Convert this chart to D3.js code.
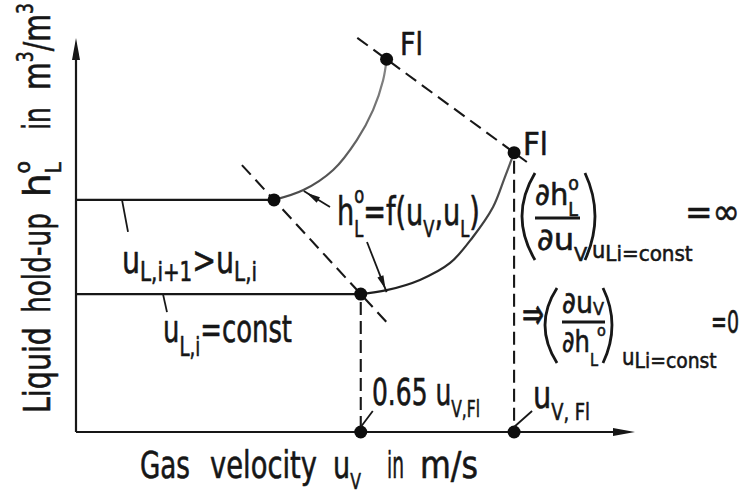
<!DOCTYPE html>
<html>
<head>
<meta charset="utf-8">
<script src="https://cdn.jsdelivr.net/npm/d3@7/dist/d3.min.js"></script>
<style>
  html, body { margin: 0; padding: 0; background: #fff; }
  svg { display: block; }
  text { font-family: "DejaVu Sans", "Liberation Sans", sans-serif; font-stretch: condensed;
         fill: #161616; stroke: #161616; stroke-width: 0.55px; stroke-linejoin: round; }
</style>
</head>
<body>
<svg id="chart" width="745" height="494"></svg>
<script>
// Hold-up curves h_L° = f(u_V, u_L) for two liquid loads (gas load in units of u_V,Fl)
const holdupLevels = [0.350, 0.589];          // u_L,i  and  u_L,i+1 (constant region)
const loadPointGas = [0.65, 0.452];            // gas load where hold-up starts rising
const floodGas = [1.0, 0.709];                 // flooding point gas load
const floodHoldup = [0.709, 0.946];            // hold-up at flooding
const curveLow = [[0.65, 0.350], [0.709, 0.360], [0.785, 0.386], [0.854, 0.429],
                  [0.906, 0.495], [0.952, 0.571], [0.979, 0.647], [1.0, 0.709]];
const curveHigh = [[0.452, 0.589], [0.519, 0.614], [0.587, 0.665], [0.641, 0.741],
                   [0.678, 0.817], [0.701, 0.893], [0.709, 0.946]];
const axisTickGas = [0.65, 1.0];               // marked gas loads on the abscissa

const svg = d3.select("#chart");
const x = d3.scaleLinear().domain([0, 1.276]).range([76, 635]);
const y = d3.scaleLinear().domain([0, 1]).range([432, 38]);
const ink = "#171717";

// ---- rich text helper: parts with sub/superscripts, stretched to a given width
function richText(parent, parts, o) {
  const size = o.size || 36;
  const g = parent.append("g");
  const t = g.append("text").attr("font-size", size);
  let shift = 0, prev = null;
  parts.forEach(p => {
    const k = p.k || "n";
    const fs = k === "n" ? size : size * (p.f || o.f || 0.66);
    let target = 0;
    if (k === "sub" || k === "subback") target = size * (p.d != null ? p.d : (o.d != null ? o.d : 0.3));
    if (k === "sup") target = -size * (p.d != null ? p.d : 0.5);
    const ts = t.append("tspan").attr("font-size", fs).text(p.t);
    ts.attr("dy", target - shift);
    if (k === "subback" && prev) ts.attr("dx", -prev.getComputedTextLength());
    shift = target;
    prev = ts.node();
  });
  const bb = t.node().getBBox();
  const sx = o.w / bb.width;
  const sy = o.sy || 1;
  const rot = o.rotate ? " rotate(-90)" : "";
  g.attr("transform", `translate(${o.x},${o.y})${rot} scale(${sx},${sy}) translate(${-bb.x},0)`);
  return g;
}

// ---- axes
const axes = svg.append("g").attr("stroke", ink).attr("stroke-width", 2.2).attr("fill", "none");
axes.append("line").attr("x1", x(0)).attr("y1", y(0)).attr("x2", x(0)).attr("y2", y(1) + 16);
axes.append("line").attr("x1", x(0)).attr("y1", y(0)).attr("x2", x(1.276) - 16).attr("y2", y(0));
svg.append("path").attr("fill", ink)
  .attr("d", `M${x(0)},${y(1)} L${x(0) - 4},${y(1) + 22} L${x(0) + 4},${y(1) + 22} Z`);
svg.append("path").attr("fill", ink)
  .attr("d", `M${x(1.276)},${y(0)} L${x(1.276) - 22},${y(0) - 4} L${x(1.276) - 22},${y(0) + 4} Z`);

// ---- constant hold-up lines below the loading point
const plot = svg.append("g");
holdupLevels.forEach((h, i) => {
  plot.append("line").attr("stroke", ink).attr("stroke-width", 2.3)
    .attr("x1", x(0)).attr("y1", y(h)).attr("x2", x(loadPointGas[i])).attr("y2", y(h));
});

// ---- rising hold-up curves
const defs = svg.append("defs");
const grad = defs.append("linearGradient").attr("id", "fade")
  .attr("gradientUnits", "userSpaceOnUse")
  .attr("x1", 0).attr("y1", y(0.35)).attr("x2", 0).attr("y2", y(0.95));
grad.append("stop").attr("offset", 0).attr("stop-color", "#1e1e1e");
grad.append("stop").attr("offset", 1).attr("stop-color", "#8a8a8a");
const lineGen = d3.line().x(d => x(d[0])).y(d => y(d[1])).curve(d3.curveCatmullRom.alpha(0.5));
[curveLow, curveHigh].forEach(c => {
  plot.append("path").attr("d", lineGen(c)).attr("fill", "none")
    .attr("stroke", "url(#fade)").attr("stroke-width", 2.2);
});

// ---- dashed construction lines
function extended(p1, p2, a, b) {
  const v = [p2[0] - p1[0], p2[1] - p1[1]];
  return [[p1[0] - a * v[0], p1[1] - a * v[1]], [p2[0] + b * v[0], p2[1] + b * v[1]]];
}
const loadLine = extended([loadPointGas[1], holdupLevels[1]], [loadPointGas[0], holdupLevels[0]], 0.37, 0.31);
const floodLine = extended([floodGas[1], floodHoldup[1]], [floodGas[0], floodHoldup[0]], 0.23, 0.1);
const dashed = svg.append("g").attr("stroke", ink).attr("stroke-width", 2.1)
  .attr("stroke-dasharray", "13,7").attr("fill", "none");
[loadLine, floodLine].forEach(l => {
  dashed.append("line").attr("x1", x(l[0][0])).attr("y1", y(l[0][1]))
    .attr("x2", x(l[1][0])).attr("y2", y(l[1][1]));
});
const vdash = svg.append("g").attr("stroke", ink).attr("stroke-width", 2.1)
  .attr("stroke-dasharray", "13,6").attr("fill", "none");
vdash.append("line").attr("x1", x(axisTickGas[0])).attr("y1", y(holdupLevels[0]) + 8)
  .attr("x2", x(axisTickGas[0])).attr("y2", y(0));
vdash.append("line").attr("x1", x(axisTickGas[1])).attr("y1", y(floodHoldup[0]) + 8)
  .attr("x2", x(axisTickGas[1])).attr("y2", y(0));

// ---- points
const pts = [[loadPointGas[0], holdupLevels[0]], [loadPointGas[1], holdupLevels[1]],
             [floodGas[0], floodHoldup[0]], [floodGas[1], floodHoldup[1]],
             [axisTickGas[0], 0], [axisTickGas[1], 0]];
svg.append("g").selectAll("circle").data(pts).join("circle")
  .attr("cx", d => x(d[0])).attr("cy", d => y(d[1])).attr("r", 6.5).attr("fill", "#0d0d0d");

// ---- leader lines
const leaders = svg.append("g").attr("stroke", ink).attr("stroke-width", 1.8).attr("fill", "none");
const leaderSegs = [
  [[x(0) + 46, y(holdupLevels[1])], [x(0) + 52, y(holdupLevels[1]) + 32]],
  [[x(0) + 87, y(holdupLevels[0])], [x(0) + 91, y(holdupLevels[0]) + 18]],
  [[x(axisTickGas[0]), y(0) - 5], [x(axisTickGas[0]) + 12, y(0) - 21]],
  [[x(axisTickGas[1]), y(0) - 5], [x(axisTickGas[1]) + 18, y(0) - 21]],
  [[330, 207], [x(0.52), y(0.614) + 1]],
  [[367, 242], [x(0.709), y(0.360) + 2]]
];
leaderSegs.forEach(s => leaders.append("line")
  .attr("x1", s[0][0]).attr("y1", s[0][1]).attr("x2", s[1][0]).attr("y2", s[1][1]));
// arrow heads on the two curve pointers
[leaderSegs[4], leaderSegs[5]].forEach(s => {
  const [a, b] = s;
  const ang = Math.atan2(b[1] - a[1], b[0] - a[0]);
  const tip = [b[0] - 3 * Math.cos(ang), b[1] - 3 * Math.sin(ang)];
  const L = 14, W = 3.2;
  const base = [tip[0] - L * Math.cos(ang), tip[1] - L * Math.sin(ang)];
  const nx = -Math.sin(ang) * W, ny = Math.cos(ang) * W;
  svg.append("path").attr("fill", ink)
    .attr("d", `M${tip[0]},${tip[1]} L${base[0] + nx},${base[1] + ny} L${base[0] - nx},${base[1] - ny} Z`);
});

// ---- axis titles
const T = svg.append("g");
richText(T, [{t: "Gas"}], {x: 140, y: 478, w: 50, sy: 1.05});
richText(T, [{t: "velocity"}], {x: 210, y: 478, w: 107, sy: 1.05});
richText(T, [{t: "u"}, {t: "V", k: "sub", f: 0.58, d: 0.3}], {x: 333, y: 478, w: 28, sy: 1.05});
richText(T, [{t: "in"}], {x: 387, y: 478, w: 17, sy: 1.05});
richText(T, [{t: "m/s"}], {x: 420, y: 478, w: 58, sy: 1.05});

richText(T, [{t: "Liquid"}], {x: 50, y: 413, w: 86, rotate: true, sy: 1.05});
richText(T, [{t: "hold-up"}], {x: 50, y: 313, w: 100, rotate: true, sy: 1.05});
richText(T, [{t: "h"}, {t: "o", k: "sup", f: 0.55, d: 0.52}, {t: "L", k: "subback", f: 0.55, d: 0.3}],
  {x: 50, y: 197, w: 36, rotate: true, sy: 1.05});
richText(T, [{t: "in"}], {x: 50, y: 130, w: 23, rotate: true, sy: 1.05});
richText(T, [{t: "m"}, {t: "3", k: "sup", f: 0.6, d: 0.45}, {t: "/m", k: "n"}, {t: "3", k: "sup", f: 0.6, d: 0.45}],
  {x: 50, y: 90, w: 87, rotate: true, sy: 1.05});

// ---- curve labels
richText(T, [{t: "Fl"}], {x: 400, y: 55, w: 23, size: 32});
richText(T, [{t: "Fl"}], {x: 523, y: 155, w: 25, size: 32});
richText(T, [{t: "u"}, {t: "L,i+1", k: "sub", f: 0.7, d: 0.22}, {t: ">u", k: "n"}, {t: "L,i", k: "sub", f: 0.7, d: 0.22}],
  {x: 122, y: 273, w: 135, sy: 1.05});
richText(T, [{t: "u"}, {t: "L,i", k: "sub", f: 0.7, d: 0.36}, {t: "=const", k: "n"}],
  {x: 163, y: 342, w: 129, sy: 1.05});
richText(T, [{t: "h"}, {t: "o", k: "sup", f: 0.6, d: 0.55}, {t: "L", k: "subback", f: 0.6, d: 0.3},
             {t: "=f(u", k: "n"}, {t: "V", k: "sub", f: 0.6, d: 0.3}, {t: ",u", k: "n"},
             {t: "L", k: "sub", f: 0.6, d: 0.3}, {t: ")", k: "n"}],
  {x: 337, y: 225, w: 143, sy: 1.1});
richText(T, [{t: "0.65 u"}, {t: "V,Fl", k: "sub", f: 0.62, d: 0.32}], {x: 372, y: 405, w: 108, sy: 1.05});
richText(T, [{t: "u"}, {t: "V, Fl", k: "sub", f: 0.62, d: 0.32}], {x: 533, y: 408, w: 57, sy: 1.05});

// ---- derivative expressions at the flooding point
const F = svg.append("g");
const paren = svg.append("g").attr("stroke", ink).attr("stroke-width", 2.8).attr("fill", "none");
paren.append("path").attr("d", "M535,173 Q509,216 535,260");
paren.append("path").attr("d", "M585,173 Q605,216 585,260");
paren.append("path").attr("d", "M557,288 Q533,325 557,363");
paren.append("path").attr("d", "M603,288 Q621,325 603,363");
paren.append("line").attr("x1", 535).attr("y1", 218).attr("x2", 580).attr("y2", 218);
paren.append("line").attr("x1", 562).attr("y1", 322).attr("x2", 605).attr("y2", 322);

richText(F, [{t: "∂h"}, {t: "o", k: "sup", f: 0.6, d: 0.5}, {t: "L", k: "subback", f: 0.6, d: 0.35}],
  {x: 535, y: 205, w: 44, size: 31});
richText(F, [{t: "∂u"}, {t: "V", k: "sub", f: 0.6, d: 0.35}], {x: 537, y: 250, w: 51, size: 31});
richText(F, [{t: "u"}, {t: "Li=const", k: "sub", f: 0.95, d: 0.12}], {x: 592, y: 258, w: 101, size: 23});
richText(F, [{t: "=∞"}], {x: 685, y: 224, w: 55, size: 36});

richText(F, [{t: "⇒"}], {x: 522, y: 329, w: 22, size: 32, sy: 1.35});
richText(F, [{t: "∂u"}, {t: "V", k: "sub", f: 0.6, d: 0.08}], {x: 562, y: 312.5, w: 42, size: 30});
richText(F, [{t: "∂h"}, {t: "L", k: "sub", f: 0.6, d: 0.45}], {x: 562, y: 352, w: 36, size: 30});
richText(F, [{t: "o"}], {x: 597, y: 335.5, w: 9, size: 16});
richText(F, [{t: "u"}, {t: "Li=const", k: "sub", f: 0.95, d: 0.12}], {x: 622, y: 365, w: 95, size: 23});
richText(F, [{t: "=0"}], {x: 711, y: 333, w: 28, size: 30, sy: 1.05});
</script>
</body>
</html>
